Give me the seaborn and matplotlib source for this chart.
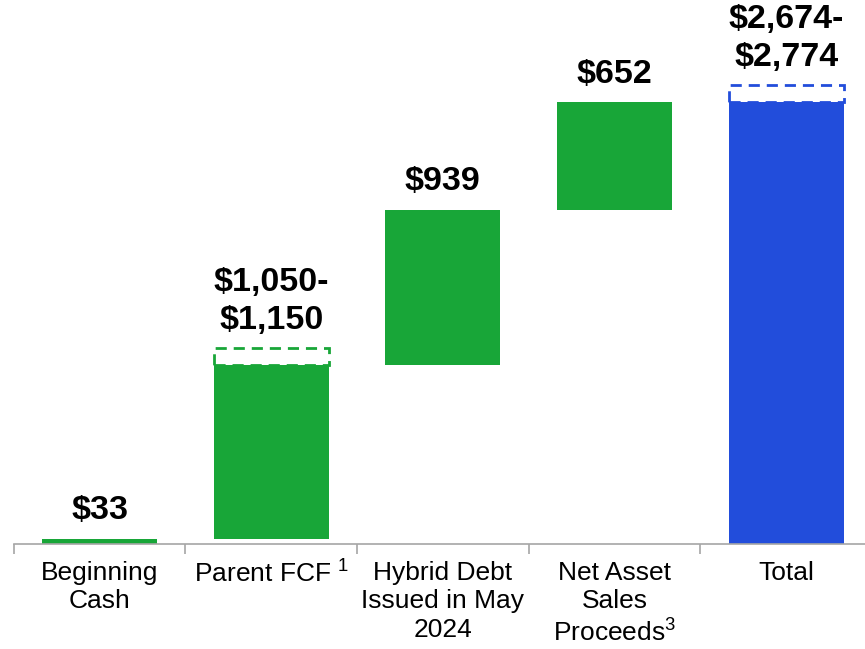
import pandas as pd
import numpy as np
import matplotlib
matplotlib.use('Agg')
import matplotlib.pyplot as plt
import seaborn as sns

# Waterfall data ($ millions)
categories = ['Beginning\nCash', 'Parent FCF $^{1}$', 'Hybrid Debt\nIssued in May\n2024',
              'Net Asset\nSales\nProceeds$^{3}$', 'Total']
bar_low = [0, 33, 1083, 2022, 0]
bar_high = [33, 1083, 2022, 2674, 2674]
range_cats = ['Parent FCF $^{1}$', 'Total']
range_low = [1083, 2674]
range_high = [1183, 2774]
value_labels = ['$33', '$1,050-\n$1,150', '$939', '$652', '$2,674-\n$2,774']
label_top = [33, 1183, 2022, 2674, 2774]

green = '#18A638'
blue = '#224DDB'
bar_colors = [green, green, green, green, blue]
range_colors = [green, blue]

sns.set_theme(style='white')
plt.rcParams['font.family'] = ['Liberation Sans', 'DejaVu Sans']
plt.rcParams['mathtext.fontset'] = 'custom'
plt.rcParams['mathtext.rm'] = 'Liberation Sans'
plt.rcParams['mathtext.it'] = 'Liberation Sans'

data = pd.DataFrame({'cat': categories,
                     'height': np.array(bar_high) - np.array(bar_low)})
rng = pd.DataFrame({'cat': range_cats,
                    'height': np.array(range_high) - np.array(range_low)})

fig = plt.figure(figsize=(8.65, 6.49), dpi=100)
ax = fig.add_axes([13.7 / 865, 105 / 649, 858.3 / 865, 544 / 649])

sns.barplot(data=data, x='cat', y='height', order=categories, bottom=bar_low,
            width=0.67, errorbar=None, color=green, linewidth=0, ax=ax)
for patch, c in zip(ax.patches, bar_colors):
    patch.set_facecolor(c)
n_solid = len(ax.patches)

# dashed boxes for the ranges
sns.barplot(data=rng, x='cat', y='height', order=categories, bottom=range_low,
            width=0.67, errorbar=None, color=green, fill=False, linewidth=2, ax=ax)
for patch, c in zip(ax.patches[n_solid:], range_colors):
    patch.set_edgecolor(c)
    patch.set_fill(False)
    patch.set_linestyle((0, (4, 2.5)))

# value labels
for i, (txt, top) in enumerate(zip(value_labels, label_top)):
    ax.annotate(txt.replace('$', r'\$'), (i, top), xytext=(0, 9), textcoords='offset points',
                ha='center', va='bottom', fontsize=24.5, fontweight='bold',
                color='black', linespacing=1.3)

ax.set_xlim(-0.5, 4.5)
ax.set_ylim(0, 544 / (442 / 2674))
ax.set_xlabel('')
ax.set_ylabel('')
ax.set_yticks([])

for s in ['top', 'right', 'left']:
    ax.spines[s].set_visible(False)
ax.spines['bottom'].set_color('#A6A6A6')
ax.spines['bottom'].set_linewidth(1.2)

ax.set_xticks(range(len(categories)))
ax.set_xticklabels(categories, fontsize=19, linespacing=1.25, color='black')
ax.set_xticks(np.arange(-0.5, 5, 1), minor=True)
ax.tick_params(axis='x', which='major', length=0, pad=12)
ax.tick_params(axis='x', which='minor', length=7, width=1.2, color='#A6A6A6',
               direction='out', bottom=True)

fig.savefig('out.png', dpi=100)
